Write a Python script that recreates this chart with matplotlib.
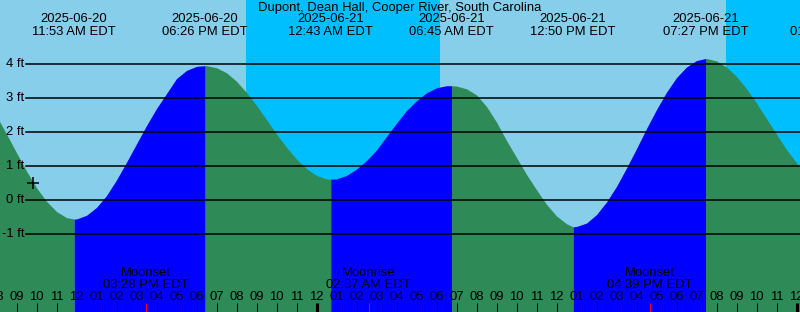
import numpy as np
import pandas as pd
import matplotlib
matplotlib.use("Agg")
import matplotlib.pyplot as plt
import matplotlib.transforms as mtransforms

plt.rcParams['font.family'] = ['Liberation Sans', 'DejaVu Sans']

title = "Dupont, Dean Hall, Cooper River, South Carolina"

# high / low tides (local time EDT, height ft)
event_times = ["2025-06-20 05:42", "2025-06-20 11:53", "2025-06-20 18:26", "2025-06-21 00:43",
               "2025-06-21 06:45", "2025-06-21 12:50", "2025-06-21 19:27", "2025-06-22 01:48"]
event_labels = ["05:42 AM EDT", "11:53 AM EDT", "06:26 PM EDT", "12:43 AM EDT",
                "06:45 AM EDT", "12:50 PM EDT", "07:27 PM EDT", "01:48 AM EDT"]
event_heights = [3.80, -0.55, 3.96, 0.62, 3.37, -0.78, 4.17, 0.40]

# tide height read every 30 min from 2025-06-20 08:00
tide_start = "2025-06-20 08:00"
tide_heights = [2.48, 1.95, 1.40, 0.86, 0.37, -0.03, -0.33, -0.51,
                -0.55, -0.44, -0.21, 0.14, 0.60, 1.12, 1.66, 2.20,
                2.70, 3.14, 3.58, 3.82, 3.94, 3.96, 3.90, 3.75,
                3.50, 3.17, 2.79, 2.37, 1.95, 1.56, 1.21, 0.93,
                0.73, 0.63, 0.63, 0.73, 0.92, 1.17, 1.48, 1.88,
                2.27, 2.64, 2.93, 3.16, 3.31, 3.37, 3.36, 3.28,
                3.10, 2.76, 2.30, 1.76, 1.26, 0.76, 0.31, -0.12,
                -0.46, -0.69, -0.77, -0.67, -0.42, -0.05, 0.41, 0.95,
                1.52, 2.11, 2.67, 3.18, 3.61, 3.92, 4.11, 4.17,
                4.10, 3.92, 3.64, 3.28, 2.86, 2.40, 1.94, 1.49,
                1.10, 0.78]

# sunset / sunrise
night_spans = [("2025-06-20 20:28", "2025-06-21 06:10"), ("2025-06-21 20:28", "2025-06-22 06:10")]

# moon events
moon_times = ["2025-06-20 15:28", "2025-06-21 02:37", "2025-06-21 16:39"]
moon_names = ["Moonset", "Moonrise", "Moonset"]
moon_labels = ["03:28 PM EDT", "02:37 AM EDT", "04:39 PM EDT"]

now_time = "2025-06-20 09:50"
now_height = 0.52

levels = [-1, 0, 1, 2, 3, 4]

origin = pd.Timestamp("2025-06-20 12:00")
FS = 9.4


def hours(s):
    return (pd.to_datetime(s) - origin) / pd.Timedelta(hours=1)


ev_t = np.array([hours(s) for s in event_times])
grid_t = np.array((pd.date_range(tide_start, periods=len(tide_heights), freq="30min") - origin)
                  / pd.Timedelta(hours=1))
t_all = np.concatenate([grid_t, ev_t])
h_all = np.concatenate([tide_heights, event_heights])
order = np.argsort(t_all)
t_all = t_all[order]
h_all = h_all[order]

W, H = 800, 312
x0, x1 = -76.5 / 20, (W - 76.5) / 20
y_top, y_bot = 200.3 / 34, -(H - 200.3) / 34

fig = plt.figure(figsize=(8, 3.12), dpi=100)
ax = fig.add_axes([0, 0, 1, 1])
ax.set_xlim(x0, x1)
ax.set_ylim(y_bot, y_top)
ax.axis('off')
ax.add_patch(plt.Rectangle((0, 0), 1, 1, transform=ax.transAxes, color='#87CEEB', zorder=0))

for a, b in night_spans:
    ax.axvspan(hours(a), hours(b), color='#00BFFF', lw=0, zorder=0.5)

# tide fill, blue when rising, green when falling
for i in range(len(ev_t) - 1):
    m = (t_all >= ev_t[i]) & (t_all <= ev_t[i + 1])
    rising = event_heights[i + 1] > event_heights[i]
    ax.fill_between(t_all[m], h_all[m], y_bot, color='#0000FF' if rising else '#2E8B57',
                    lw=0, zorder=1)

left = mtransforms.blended_transform_factory(ax.transAxes, ax.transData)
for lv in levels:
    ax.axhline(lv, xmin=26 / W, xmax=1, color='black', lw=1.1, zorder=2)
    ax.text(24 / W, lv, f"{lv} ft", transform=left, ha='right', va='center', fontsize=FS, zorder=3)

ax.plot([hours(now_time)], [now_height], marker='+', color='black', ms=9, mew=1.1, zorder=3)

top = mtransforms.blended_transform_factory(ax.transData, ax.transAxes)
fig.text(0.5, 1 - 7.5 / H, title, ha='center', va='center', fontsize=FS)
for t, s, lab in zip(ev_t, event_times, event_labels):
    if t < x0:
        continue
    ax.text(t, 1 - 19.5 / H, s[:10], transform=top, ha='center', va='center', fontsize=FS, zorder=3)
    ax.text(t, 1 - 31.8 / H, lab, transform=top, ha='center', va='center', fontsize=FS, zorder=3)

# hour ticks and labels
for hr in range(-4, 38):
    lw = 3 if hr % 24 == 12 else 1
    ax.plot([hr, hr], [0, 9 / H], transform=top, color='black', lw=lw * 0.75, solid_capstyle='butt', zorder=3)
    lab = (hr + 12) % 12
    lab = 12 if lab == 0 else lab
    ax.text(hr, 1 - 297.5 / H, f"{lab:02d}", transform=top, ha='center', va='center', fontsize=FS, zorder=3)

for s, name, lab in zip(moon_times, moon_names, moon_labels):
    t = hours(s)
    ax.plot([t, t], [0, 9 / H], transform=top, color='red', lw=0.75, solid_capstyle='butt', zorder=3)
    ax.text(t, 1 - 273 / H, name, transform=top, ha='center', va='center', fontsize=FS, zorder=3)
    ax.text(t, 1 - 285.5 / H, lab, transform=top, ha='center', va='center', fontsize=FS, zorder=3)

fig.savefig("out.png", dpi=100)
